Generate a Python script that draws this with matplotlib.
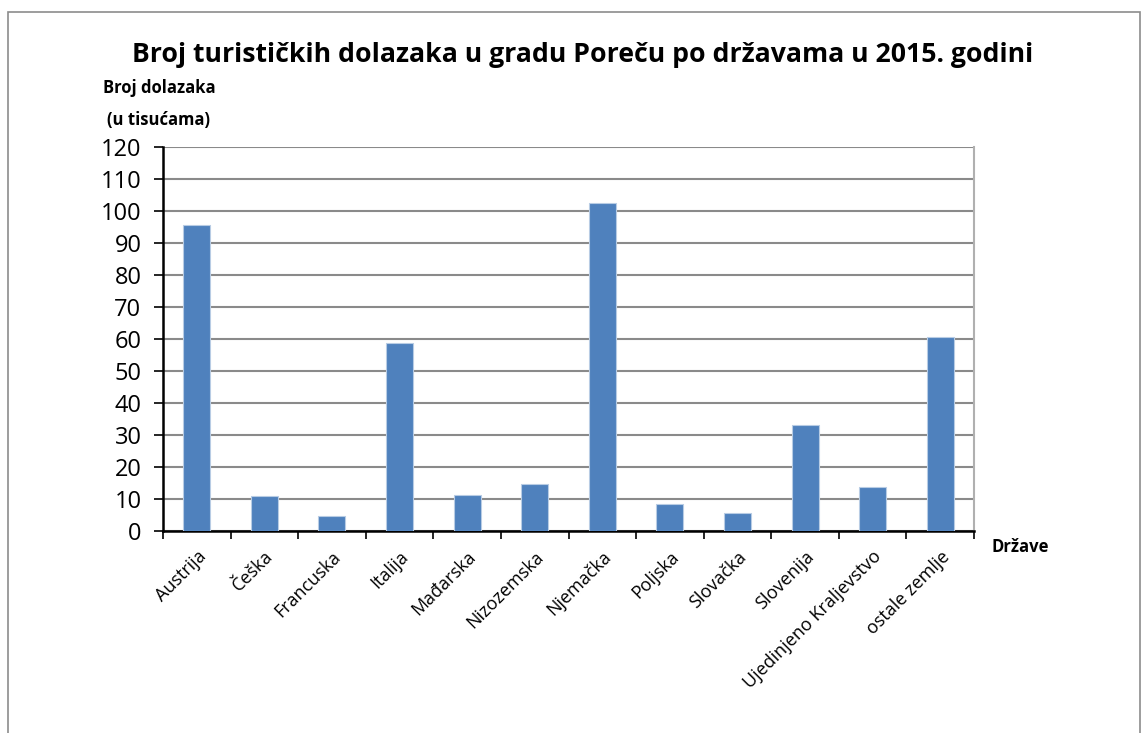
import matplotlib.pyplot as plt
import numpy as np
from matplotlib.patches import Rectangle

plt.rcParams['font.family'] = ['Open Sans', 'DejaVu Sans']

drzave = ["Austrija", "Češka", "Francuska", "Italija", "Mađarska", "Nizozemska",
          "Njemačka", "Poljska", "Slovačka", "Slovenija", "Ujedinjeno Kraljevstvo",
          "ostale zemlje"]
dolasci = [95.6, 10.9, 4.7, 58.7, 11.3, 14.6, 102.5, 8.4, 5.5, 33.0, 13.7, 60.5]

W, H = 1144, 733
fig = plt.figure(figsize=(W / 100, H / 100), dpi=100)
ax = fig.add_axes([163 / W, 1 - 531 / H, (974 - 163) / W, (531 - 147) / H])

# outer chart frame
fig.patches.append(Rectangle((8 / W, -0.05), (1140 - 8) / W, 1.05 - 12 / H,
                             transform=fig.transFigure, fill=False,
                             edgecolor='#8c8c8c', linewidth=1.2))

ind = np.arange(len(drzave))
ax.bar(ind, dolasci, 0.4, color='#4F81BD', edgecolor='#b8cce4', linewidth=0.8, zorder=3)

ax.set_xlim(-0.5, len(drzave) - 0.5)
ax.set_ylim(0, 120)
ax.set_yticks(np.arange(0, 121, 10))
ax.yaxis.grid(True, color='#8a8a8a', linewidth=1.5, zorder=0)
ax.set_axisbelow(True)

ax.set_xticks(ind)
ax.set_xticklabels(drzave, rotation=45, ha='right', rotation_mode='anchor', fontsize=13)
ax.set_xticks(np.arange(-0.5, len(drzave)), minor=True)
ax.tick_params(axis='x', which='major', length=0, pad=12)
ax.tick_params(axis='x', which='minor', length=6, width=1.2, direction='out')
ax.tick_params(axis='y', labelsize=17, length=6.5, width=1.2, direction='out', pad=9)

for s in ['left', 'bottom']:
    ax.spines[s].set_linewidth(1.8)
    ax.spines[s].set_color('black')
ax.spines['right'].set_color('#b0b0b0')
ax.spines['right'].set_linewidth(1.5)
ax.spines['top'].set_visible(False)

fig.text(583 / W, 1 - 55 / H, "Broj turističkih dolazaka u gradu Poreču po državama u 2015. godini",
         ha='center', va='center', fontsize=19.2, fontweight='bold')
fig.text(103 / W, 1 - 88 / H, "Broj dolazaka", ha='left', va='center', fontsize=12, fontweight='bold')
fig.text(107 / W, 1 - 120 / H, "(u tisućama)", ha='left', va='center', fontsize=12, fontweight='bold')
fig.text(992 / W, 1 - 547 / H, "Države", ha='left', va='center', fontsize=12, fontweight='bold')

fig.savefig("out.png", dpi=100)
